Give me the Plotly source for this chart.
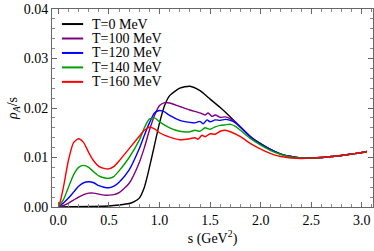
import plotly.graph_objects as go

# ---- data ----
s_black = [0.0, 0.3, 0.5, 0.6, 0.7, 0.75, 0.8, 0.85, 0.9, 0.95, 1.0, 1.05, 1.1, 1.2, 1.3, 1.4, 1.5, 1.6, 1.7, 1.8, 1.9, 2.0, 2.1, 2.2, 2.3, 2.4, 2.5, 2.6, 2.7, 2.8, 2.9, 3.0, 3.05]
rho_black = [0.0, 0.0001, 0.0002, 0.0004, 0.0007, 0.0011, 0.0018, 0.0040, 0.0080, 0.0125, 0.0170, 0.0205, 0.0225, 0.0240, 0.0244, 0.0235, 0.0218, 0.0201, 0.0182, 0.0161, 0.0142, 0.0128, 0.0116, 0.0107, 0.0102, 0.0099, 0.0099, 0.0100, 0.0102, 0.0104, 0.0107, 0.0110, 0.0112]

s_100 = [0.0, 0.05, 0.1, 0.15, 0.2, 0.25, 0.3, 0.35, 0.4, 0.45, 0.5, 0.55, 0.6, 0.7, 0.8, 0.85, 0.9, 0.95, 1.0, 1.05, 1.1, 1.2, 1.3, 1.4, 1.45, 1.48, 1.52, 1.55, 1.6, 1.65, 1.7, 1.75, 1.8, 1.9, 2.0, 2.1, 2.2, 2.3, 2.4, 2.5, 2.6, 2.7, 2.8, 2.9, 3.0, 3.05]
rho_100 = [0.0, 0.0003, 0.0008, 0.0014, 0.0020, 0.0025, 0.0028, 0.0028, 0.0026, 0.0024, 0.0024, 0.0025, 0.0029, 0.0048, 0.0090, 0.0120, 0.0155, 0.0185, 0.0205, 0.0211, 0.0210, 0.0203, 0.0196, 0.0190, 0.0186, 0.0190, 0.0183, 0.0186, 0.0181, 0.0182, 0.0178, 0.0172, 0.0162, 0.0142, 0.0127, 0.0116, 0.0107, 0.0102, 0.0099, 0.0099, 0.0100, 0.0102, 0.0104, 0.0107, 0.0110, 0.0112]

s_120 = [0.0, 0.05, 0.1, 0.15, 0.2, 0.25, 0.3, 0.35, 0.4, 0.45, 0.5, 0.55, 0.6, 0.7, 0.8, 0.85, 0.9, 0.95, 1.0, 1.05, 1.1, 1.2, 1.3, 1.35, 1.4, 1.43, 1.47, 1.5, 1.55, 1.6, 1.65, 1.7, 1.75, 1.8, 1.9, 2.0, 2.1, 2.2, 2.3, 2.4, 2.5, 2.6, 2.7, 2.8, 2.9, 3.0, 3.05]
rho_120 = [0.0, 0.0008, 0.0018, 0.0030, 0.0042, 0.0049, 0.0051, 0.0049, 0.0043, 0.0040, 0.0039, 0.0042, 0.0050, 0.0075, 0.0118, 0.0145, 0.0170, 0.0190, 0.0195, 0.0192, 0.0185, 0.0175, 0.0171, 0.0170, 0.0173, 0.0168, 0.0176, 0.0172, 0.0176, 0.0175, 0.0177, 0.0175, 0.0170, 0.0161, 0.0141, 0.0127, 0.0116, 0.0107, 0.0102, 0.0099, 0.0099, 0.0100, 0.0102, 0.0104, 0.0107, 0.0110, 0.0112]

s_140 = [0.0, 0.05, 0.1, 0.15, 0.2, 0.25, 0.3, 0.35, 0.4, 0.45, 0.5, 0.55, 0.6, 0.7, 0.8, 0.85, 0.9, 0.95, 1.0, 1.1, 1.2, 1.3, 1.35, 1.4, 1.45, 1.5, 1.55, 1.6, 1.65, 1.7, 1.75, 1.8, 1.9, 2.0, 2.1, 2.2, 2.3, 2.4, 2.5, 2.6, 2.7, 2.8, 2.9, 3.0, 3.05]
rho_140 = [0.0, 0.0015, 0.0040, 0.0065, 0.0080, 0.0084, 0.0080, 0.0071, 0.0063, 0.0059, 0.0058, 0.0062, 0.0073, 0.0100, 0.0135, 0.0160, 0.0178, 0.0180, 0.0172, 0.0160, 0.0153, 0.0152, 0.0155, 0.0153, 0.0160, 0.0157, 0.0162, 0.0165, 0.0166, 0.0167, 0.0163, 0.0155, 0.0138, 0.0125, 0.0114, 0.0106, 0.0101, 0.0099, 0.0099, 0.0100, 0.0102, 0.0104, 0.0107, 0.0110, 0.0112]

s_160 = [0.0, 0.02, 0.05, 0.1, 0.15, 0.2, 0.25, 0.3, 0.35, 0.4, 0.45, 0.5, 0.55, 0.6, 0.7, 0.8, 0.85, 0.9, 0.95, 1.0, 1.1, 1.2, 1.3, 1.35, 1.38, 1.42, 1.45, 1.5, 1.55, 1.6, 1.65, 1.7, 1.8, 1.9, 2.0, 2.1, 2.2, 2.3, 2.4, 2.5, 2.6, 2.7, 2.8, 2.9, 3.0, 3.05]
rho_160 = [0.0, 0.0012, 0.0040, 0.0095, 0.0130, 0.0138, 0.0130, 0.0110, 0.0093, 0.0082, 0.0078, 0.0077, 0.0082, 0.0093, 0.0118, 0.0143, 0.0155, 0.0161, 0.0158, 0.0150, 0.0141, 0.0136, 0.0138, 0.0140, 0.0137, 0.0145, 0.0142, 0.0148, 0.0147, 0.0153, 0.0155, 0.0152, 0.0142, 0.0128, 0.0117, 0.0108, 0.0102, 0.0099, 0.0098, 0.0099, 0.0100, 0.0102, 0.0104, 0.0107, 0.0110, 0.0112]

legend_labels = ["T=0 MeV", "T=100 MeV", "T=120 MeV", "T=140 MeV", "T=160 MeV"]
colors = ["#000000", "#800080", "#0000FF", "#00A000", "#FF0000"]
s_series = [s_black, s_100, s_120, s_140, s_160]
rho_series = [rho_black, rho_100, rho_120, rho_140, rho_160]

x_ticks = [0.0, 0.5, 1.0, 1.5, 2.0, 2.5, 3.0]
x_ticklabels = ["0.0", "0.5", "1.0", "1.5", "2.0", "2.5", "3.0"]
y_ticks = [0.0, 0.01, 0.02, 0.03, 0.04]
y_ticklabels = ["0.00", "0.01", "0.02", "0.03", "0.04"]

FONT = "Liberation Serif, Times New Roman, serif"
FS = 14

fig = go.Figure()
for name, xs, ys, col in zip(legend_labels, s_series, rho_series, colors):
    fig.add_trace(go.Scatter(x=xs, y=ys, mode="lines", name=name, showlegend=False,
                             hoverinfo="skip",
                             line=dict(color=col, width=1.4, shape="spline", smoothing=0.6)))

# compact legend (rows closer than plotly's built-in legend allows)
leg_x0, leg_x1, leg_tx = 0.031, 0.097, 0.118
leg_y0, leg_dy = 0.924, 0.073
for i, (name, col) in enumerate(zip(legend_labels, colors)):
    yy = leg_y0 - i * leg_dy
    fig.add_shape(type="line", xref="paper", yref="paper", x0=leg_x0, x1=leg_x1, y0=yy, y1=yy,
                  line=dict(color=col, width=2))
    fig.add_annotation(xref="paper", yref="paper", x=leg_tx, y=yy, text=name, showarrow=False,
                       xanchor="left", yanchor="middle", font=dict(family=FONT, size=FS, color="black"))

axis_common = dict(
    showline=True, linecolor="#666666", linewidth=1, mirror="ticks",
    ticks="inside", ticklen=5, tickcolor="#666666", tickwidth=1,
    showgrid=False, zeroline=False, automargin=False,
    tickfont=dict(family=FONT, size=FS, color="black"),
)

fig.update_xaxes(range=[-0.063, 3.11], tickvals=x_ticks, ticktext=x_ticklabels,
                 minor=dict(dtick=0.1, tick0=0, ticks="inside", ticklen=3, tickcolor="#888888", showgrid=False),
                 title=dict(text="s (GeV<sup>2</sup>)", font=dict(family=FONT, size=FS, color="black"), standoff=2),
                 **axis_common)
fig.update_yaxes(range=[0, 0.04], tickvals=y_ticks, ticktext=y_ticklabels,
                 minor=dict(dtick=0.002, tick0=0, ticks="inside", ticklen=3, tickcolor="#888888", showgrid=False),
                 title=dict(text="<i>ρ<sub>A</sub></i>/s", font=dict(family=FONT, size=FS, color="black"), standoff=2),
                 **axis_common)

fig.update_layout(
    width=374, height=251,
    margin=dict(l=52, r=1, t=9, b=44),
    plot_bgcolor="white", paper_bgcolor="white",
    font=dict(family=FONT, size=FS, color="black"),
    showlegend=False, hovermode=False,
)

# remove the default 8px page margin so the figure fills the window exactly
fig.write_html("out.html", config={"displayModeBar": False, "staticPlot": True},
               post_script="document.body.style.margin='0px';document.body.style.overflow='hidden';")
